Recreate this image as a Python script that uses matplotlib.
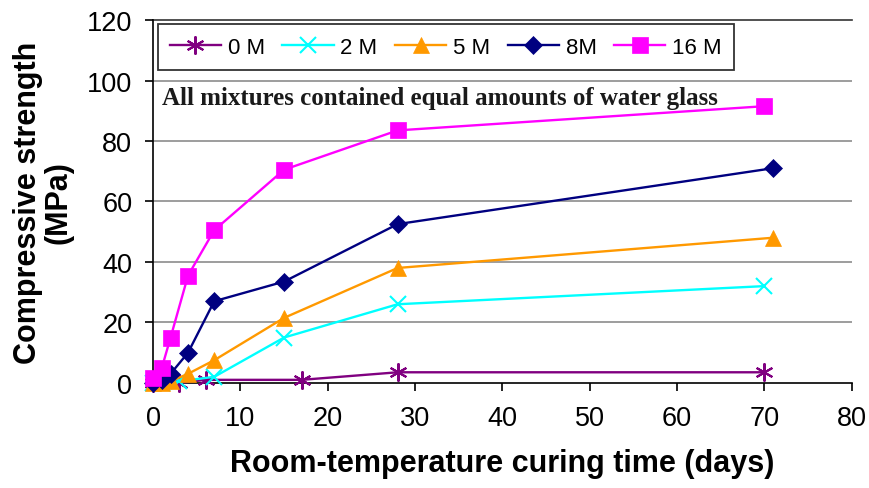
import numpy as np
import matplotlib
matplotlib.use("Agg")
import matplotlib.pyplot as plt

# curing time (days) and compressive strength (MPa) for each NaOH concentration
days_0M = [0, 3, 6, 17, 28, 70]
mpa_0M = [0, 0, 1, 1, 3.5, 3.5]

days_2M = [0, 1, 3, 7, 15, 28, 70]
mpa_2M = [0, 0, 0.5, 2, 15, 26, 32]

days_5M = [0, 1, 2, 4, 7, 15, 28, 71]
mpa_5M = [0, 0, 0.5, 3, 7.5, 21.5, 38, 48]

days_8M = [0, 1, 2, 4, 7, 15, 28, 71]
mpa_8M = [0, 1, 3, 10, 27, 33.5, 52.5, 71]

days_16M = [0, 1, 2, 4, 7, 15, 28, 70]
mpa_16M = [1.5, 5, 15, 35.5, 50.5, 70.5, 83.5, 91.5]

asterisk = (6, 2, 0)
series = [
    ("0 M", days_0M, mpa_0M, "#800080", asterisk, 13),
    ("2 M", days_2M, mpa_2M, "#00FFFF", "x", 11),
    ("5 M", days_5M, mpa_5M, "#FF9900", "^", 12),
    ("8M", days_8M, mpa_8M, "#000080", "D", 9.5),
    ("16 M", days_16M, mpa_16M, "#FF00FF", "s", 11),
]

plt.rcParams['font.family'] = ['Liberation Sans', 'DejaVu Sans']

fig = plt.figure(figsize=(8.7, 4.89), dpi=100)
ax = fig.add_axes([0.176, 0.215, 0.803, 0.742])

for name, x, y, col, mk, ms in series:
    ax.plot(x, y, color=col, marker=mk, markersize=ms, linewidth=1.7,
            markeredgewidth=1.5 if mk in ("x", asterisk) else 0.5,
            markeredgecolor=col, label=name, clip_on=False, zorder=3)

ax.set_xlim(0, 80)
ax.set_ylim(0, 120)
ax.set_xticks(np.arange(0, 81, 10))
ax.set_yticks(np.arange(0, 121, 20))

# horizontal grid only, top line darker
for v in range(20, 120, 20):
    ax.axhline(v, color="#8c8c8c", linewidth=1.2, zorder=1)
ax.axhline(120, color="#333333", linewidth=1.2, zorder=1, clip_on=False)

for side in ("top", "right"):
    ax.spines[side].set_visible(False)
for side in ("left", "bottom"):
    ax.spines[side].set_linewidth(1.2)
    ax.spines[side].set_color("black")

ax.tick_params(axis="both", direction="out", length=6, width=1.2,
               labelsize=19.5)
ax.tick_params(axis="y", pad=9)
ax.tick_params(axis="x", pad=10)

ax.set_xlabel("Room-temperature curing time (days)", fontsize=22,
              fontweight="bold", labelpad=12)
ax.set_ylabel("Compressive strength\n(MPa)", fontsize=22,
              fontweight="bold", labelpad=10, linespacing=1.0)

leg = ax.legend(loc="upper left", ncol=5, fontsize=16, frameon=True,
                fancybox=False, edgecolor="black", borderaxespad=0.2,
                handlelength=2.3, handletextpad=0.3, columnspacing=0.8,
                borderpad=0.55)
leg.get_frame().set_linewidth(1.3)
leg.set_zorder(5)

ax.text(0.012, 0.786, "All mixtures contained equal amounts of water glass",
        transform=ax.transAxes, fontsize=18, fontweight="bold",
        family="Liberation Serif", color="#1a1a1a", va="center", zorder=4)

fig.savefig("out.png", dpi=100)
